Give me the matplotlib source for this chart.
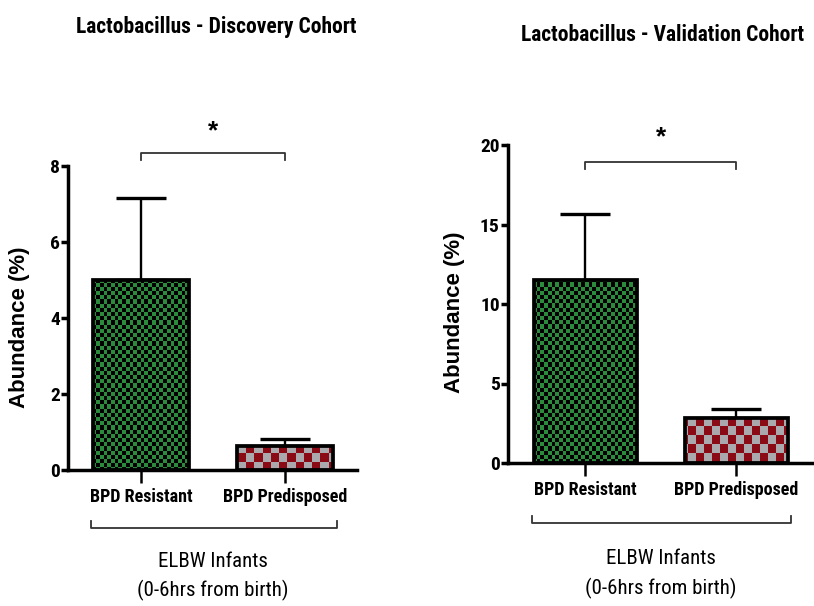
import numpy as np
import matplotlib
matplotlib.use("Agg")
import matplotlib.pyplot as plt
from matplotlib import font_manager
import matplotlib.transforms as mtransforms

groups = ["BPD Resistant", "BPD Predisposed"]
disc_mean = [5.0, 0.63]
disc_err = [2.17, 0.19]
val_mean = [11.5, 2.83]
val_err = [4.15, 0.57]
disc_ticks = [0, 2, 4, 6, 8]
val_ticks = [0, 5, 10, 15, 20]

names = {f.name for f in font_manager.fontManager.ttflist}
narrow = "Liberation Sans"
for cand in ["Liberation Sans Narrow", "Arial Narrow", "Nimbus Sans Narrow",
             "Roboto Condensed", "Asap Condensed", "Barlow Condensed"]:
    if cand in names:
        narrow = cand
        break

green = ("#2b8a3c", "#000000")
red = ("#8a0a16", "#a9a9ae")


def checker(ax, bar, colors, cw, ch):
    # checker image in pixel cells, clipped to the bar
    fig = ax.figure
    w, h = fig.get_size_inches() * fig.dpi
    nx, ny = int(w / cw) + 1, int(h / ch) + 1
    yy, xx = np.mgrid[0:ny, 0:nx]
    board = (xx + yy) % 2
    rgb = np.array([matplotlib.colors.to_rgb(c) for c in colors])[board]
    im = ax.imshow(rgb, extent=[0, nx * cw / w, 0, ny * ch / h],
                   transform=fig.transFigure, interpolation="nearest",
                   aspect="auto", zorder=2)
    im.set_clip_path(bar)


def panel(rect, means, errs, ticks, ylim, width, title, title_xy, sig_y, star_y,
          bk_y, cw, lab_xy):
    ax = fig.add_axes(rect)
    x = np.arange(len(means))
    bars = ax.bar(x, means, width=width, facecolor="none", edgecolor="black",
                  linewidth=2.7, zorder=3)
    checker(ax, bars[0], green, 3.7, 4.2)
    checker(ax, bars[1], red, cw, 9)
    ax.errorbar(x, means, yerr=[[0, 0], errs], fmt="none", ecolor="black",
                elinewidth=1.7, capsize=18, capthick=2.4, zorder=1)
    ax.set_ylim(*ylim)
    ax.set_xlim(-0.51, 1.5)
    ax.set_yticks(ticks)
    ax.set_xticks(x)
    ax.set_xticklabels(groups, fontfamily=narrow, fontweight="bold", fontsize=13)
    for lab in ax.get_yticklabels():
        lab.set_fontfamily(narrow)
        lab.set_fontweight("bold")
        lab.set_fontsize(14)
    ax.spines[["top", "right"]].set_visible(False)
    ax.spines[["left", "bottom"]].set_linewidth(2.5)
    ax.tick_params(axis="y", length=5, width=2.5, pad=1)
    ax.tick_params(axis="x", length=9, width=1.8, pad=4)
    ax.set_ylabel("Abundance (%)", fontfamily="Liberation Sans", fontweight="bold",
                  fontsize=16)
    ax.yaxis.set_label_coords(*lab_xy)
    # significance bracket
    d = (ylim[1] - ylim[0]) * 0.022
    ax.plot([0, 0, 1, 1], [sig_y - d, sig_y, sig_y, sig_y - d], color="#333333",
            lw=1.3, clip_on=False)
    ax.text(0.5, star_y, "*", ha="center", va="center", fontsize=19,
            fontfamily="Liberation Sans", fontweight="bold", clip_on=False)
    # group bracket
    tr = mtransforms.blended_transform_factory(ax.transData, ax.transAxes)
    ax.plot([-0.35, -0.35, 1.36, 1.36], [bk_y + 0.022, bk_y, bk_y, bk_y + 0.022],
            color="#333333", lw=1.3, transform=tr, clip_on=False)
    ax.text(0.5, bk_y - 0.11, "ELBW Infants", transform=tr, ha="center", va="center",
            fontfamily=narrow, fontsize=15)
    ax.text(0.5, bk_y - 0.205, "(0-6hrs from birth)", transform=tr, ha="center",
            va="center", fontfamily=narrow, fontsize=15)
    fig.text(title_xy[0], title_xy[1], title, ha="center", va="center",
             fontfamily=narrow, fontweight="bold", fontsize=15.5)
    return ax


fig = plt.figure(figsize=(8.14, 6.06), dpi=100)
panel([68 / 814, 1 - 470 / 606, 289 / 814, 304 / 606], disc_mean, disc_err,
      disc_ticks, (0, 8), 0.67, "Lactobacillus - Discovery Cohort",
      (216 / 814, 1 - 27 / 606), 8.34, 8.9, -0.191, 8.2, (-0.13, 0.47))
panel([508 / 814, 1 - 463 / 606, 304 / 814, 318 / 606], val_mean, val_err,
      val_ticks, (0, 20), 0.68, "Lactobacillus - Validation Cohort",
      (663 / 814, 1 - 35 / 606), 18.93, 20.5, -0.189, 8.0, (-0.14, 0.475))
fig.savefig("out.png", dpi=100)
